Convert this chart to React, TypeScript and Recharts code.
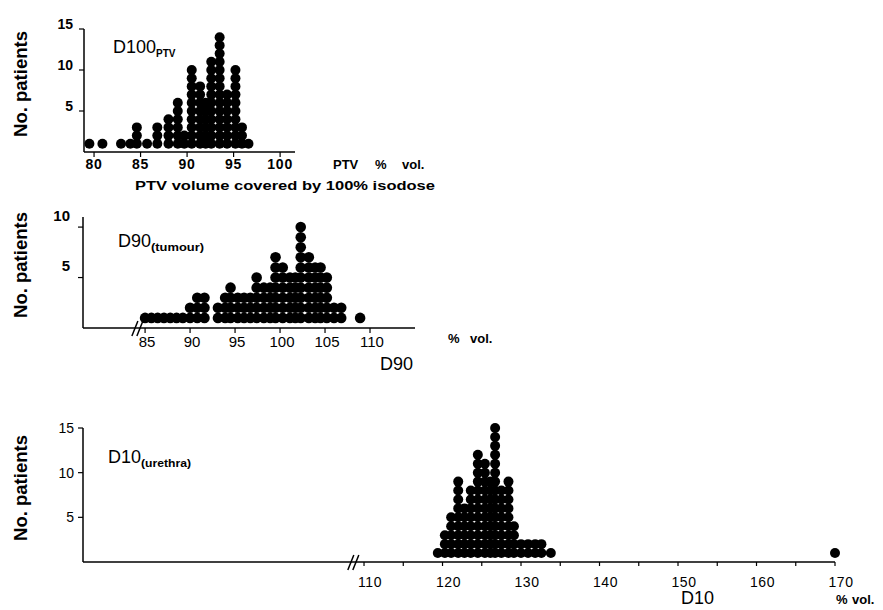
import { ScatterChart, Scatter, XAxis, YAxis, ReferenceDot } from 'recharts';

const FONT = "'Liberation Sans', Arial, Helvetica, sans-serif";

// D100 PTV: % of PTV volume covered by the 100% isodose, stacked dots per value
const ptvValues = [79.5, 80.9, 82.9, 83.9, 84.6, 85.7, 86.8, 88.0, 89.0, 89.7, 90.5, 91.4, 92.0, 92.6, 93.5, 94.3, 95.2, 95.9, 96.6];
const ptvCounts = [1, 1, 1, 1, 3, 1, 3, 4, 6, 2, 10, 8, 6, 11, 14, 7, 10, 3, 1];
const ptvTicks = [80, 85, 90, 95, 100];
const ptvCountTicks = [5, 10, 15];

// D90 tumour
const d90Values = [85.0, 85.7, 86.4, 87.1, 87.8, 88.5, 89.2, 90.0, 90.8, 91.6, 93.1, 93.9, 94.5, 95.3, 96.0, 96.7, 97.4, 98.2, 98.9, 99.5, 100.3, 101.1, 101.7, 102.3, 103.2, 103.9, 104.5, 105.2, 106.0, 106.8, 108.9];
const d90Counts = [1, 1, 1, 1, 1, 1, 1, 2, 3, 3, 2, 3, 4, 3, 3, 3, 5, 4, 4, 7, 6, 5, 5, 10, 7, 6, 6, 5, 2, 2, 1];
const d90Ticks = [85, 90, 95, 100, 105, 110];
const d90CountTicks = [5, 10];
const d90Break = 84.2;

// D10 urethra
const d10Values = [119.4, 120.3, 121.1, 122.0, 122.8, 123.6, 124.5, 125.4, 126.1, 126.7, 127.5, 128.4, 129.1, 130.0, 130.9, 131.8, 132.6, 133.8, 170];
const d10Counts = [1, 3, 5, 9, 6, 8, 12, 11, 9, 15, 8, 9, 4, 2, 2, 2, 2, 1, 1];
const d10Ticks = [110, 115, 120, 125, 130, 135, 140, 145, 150, 155, 160, 165, 170];
const d10LabelStep = 10;
const d10CountTicks = [5, 10, 15];
const d10Break = 108.7;

const stack = (values: number[], counts: number[]) =>
  values.flatMap((v, i) => Array.from({ length: counts[i] }, (_, k) => ({ x: v, y: k + 1 })));

const dot = (r: number) => (p: any) => <circle cx={p.cx} cy={p.cy} r={r} fill="#000" />;

const breakMark = (p: any) => (
  <g stroke="#000" strokeWidth={1.5}>
    <line x1={p.cx - 6} y1={p.cy + 8} x2={p.cx} y2={p.cy - 7} />
    <line x1={p.cx - 1} y1={p.cy + 8} x2={p.cx + 5} y2={p.cy - 7} />
  </g>
);

const xTick = (size: number, weight: string, dx: number, dy: number, spacing = 0, step = 0) => (p: any) =>
  step && p.payload.value % step !== 0 ? <g /> : (
    <text x={p.x + dx} y={p.y + dy} textAnchor="middle" fontSize={size} fontWeight={weight}
      fontFamily={FONT} fill="#000" letterSpacing={spacing}>
      {p.payload.value}
    </text>
  );

const yTick = (size: number, weight: string, dx: number, dy: number) => (p: any) => (
  <text x={p.x + dx} y={p.y + dy} textAnchor="end" dominantBaseline="central" fontSize={size}
    fontWeight={weight} fontFamily={FONT} fill="#000">
    {p.payload.value}
  </text>
);

const axisLine = { stroke: '#000', strokeWidth: 1.5 };
const tickLine = { stroke: '#000', strokeWidth: 1.2 };

export default function App() {
  return (
    <div style={{ position: 'absolute', left: 0, top: 0, width: 883, height: 610, background: '#fff' }}>
      <div style={{ position: 'absolute', left: 0, top: 0 }}>
        <ScatterChart width={883} height={200} margin={{ top: 29, right: 588, bottom: 18, left: 54 }}>
          <XAxis type="number" dataKey="x" domain={[78.92, 101.6]} ticks={ptvTicks} height={30}
            axisLine={axisLine} tickLine={tickLine} tickSize={5} tick={xTick(14, 'bold', 0, 10, 0.8)} />
          <YAxis type="number" dataKey="y" domain={[0, 15]} ticks={ptvCountTicks} width={30}
            axisLine={axisLine} tickLine={tickLine} tickSize={5} tick={yTick(14, 'bold', -4, -5)} />
          <Scatter data={stack(ptvValues, ptvCounts)} shape={dot(5)} isAnimationActive={false} />
        </ScatterChart>
      </div>
      <div style={{ position: 'absolute', left: 0, top: 200 }}>
        <ScatterChart width={883} height={180} margin={{ top: 17, right: 468, bottom: 22, left: 53 }}>
          <XAxis type="number" dataKey="x" domain={[78.1, 115]} ticks={d90Ticks} height={30}
            axisLine={axisLine} tickLine={tickLine} tickSize={5} tick={xTick(15, 'normal', 2, 12)} />
          <YAxis type="number" dataKey="y" domain={[0, 11]} ticks={d90CountTicks} width={30}
            axisLine={axisLine} tickLine={tickLine} tickSize={5} tick={yTick(15, 'bold', -6, -12)} />
          <Scatter data={stack(d90Values, d90Counts)} shape={dot(5.3)} isAnimationActive={false} />
          <ReferenceDot x={d90Break} y={0} ifOverflow="visible" shape={breakMark} />
        </ScatterChart>
      </div>
      <div style={{ position: 'absolute', left: 0, top: 400 }}>
        <ScatterChart width={883} height={210} margin={{ top: 28, right: 48, bottom: 18, left: 53 }}>
          <XAxis type="number" dataKey="x" domain={[74.2, 170]} ticks={d10Ticks} height={30}
            axisLine={axisLine} tickLine={tickLine} tickSize={4}
            tick={xTick(14, 'normal', 6, 19, 0.6, d10LabelStep)} />
          <YAxis type="number" dataKey="y" domain={[0, 15]} ticks={d10CountTicks} width={30}
            axisLine={axisLine} tickLine={tickLine} tickSize={5} tick={yTick(14, 'normal', -2, 0)} />
          <Scatter data={stack(d10Values, d10Counts)} shape={dot(5)} isAnimationActive={false} />
          <ReferenceDot x={d10Break} y={0} ifOverflow="visible" shape={breakMark} />
        </ScatterChart>
      </div>
      <svg width={883} height={610} style={{ position: 'absolute', left: 0, top: 0, pointerEvents: 'none' }}
        fontFamily={FONT} fill="#000">
        {[84, 265, 488].map((cy) => (
          <text key={cy} x={21} y={cy} transform={`rotate(-90 21 ${cy})`} textAnchor="middle"
            dominantBaseline="central" fontSize={18} fontWeight="bold" textLength={106}
            lengthAdjust="spacingAndGlyphs">No. patients</text>
        ))}

        <text x={113} y={53} fontSize={18}>D100<tspan fontSize={10} fontWeight="bold" dy={4}>PTV</tspan></text>
        <text x={333} y={169} fontSize={13} fontWeight="bold">PTV</text>
        <text x={375} y={169} fontSize={13} fontWeight="bold">%</text>
        <text x={402} y={169} fontSize={13} fontWeight="bold">vol.</text>
        <text x={135} y={190} fontSize={13.5} fontWeight="bold" textLength={300}
          lengthAdjust="spacingAndGlyphs">PTV volume covered by 100% isodose</text>

        <text x={118} y={247} fontSize={18}>D90<tspan fontSize={11} fontWeight="bold" dy={4}
          textLength={53} lengthAdjust="spacingAndGlyphs">(tumour)</tspan></text>
        <text x={448} y={343} fontSize={13} fontWeight="bold">%</text>
        <text x={470} y={343} fontSize={13} fontWeight="bold">vol.</text>
        <text x={380} y={370} fontSize={18}>D90</text>

        <text x={108} y={463} fontSize={18}>D10<tspan fontSize={11} fontWeight="bold" dy={4}
          textLength={50} lengthAdjust="spacingAndGlyphs">(urethra)</tspan></text>
        <text x={681} y={604} fontSize={18}>D10</text>
        <text x={836} y={604} fontSize={13} fontWeight="bold">%</text>
        <text x={852} y={604} fontSize={13} fontWeight="bold">vol.</text>
      </svg>
    </div>
  );
}
